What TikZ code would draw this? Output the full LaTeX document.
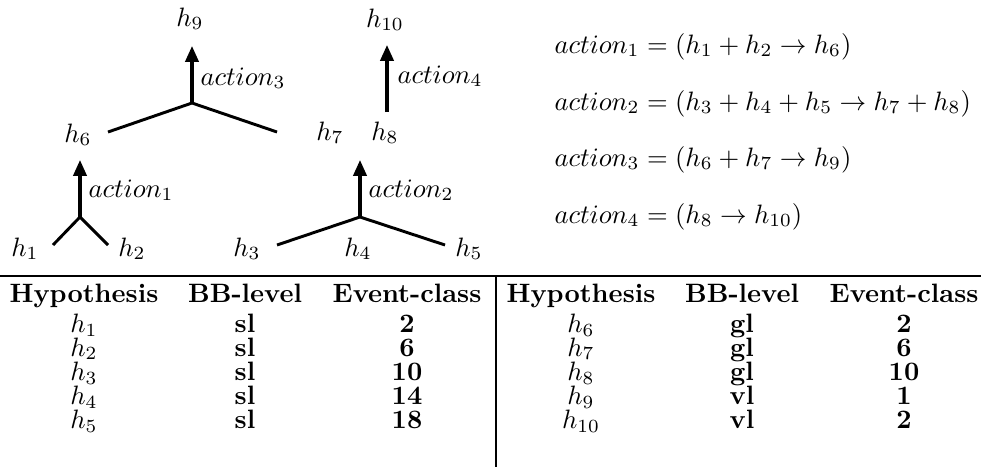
\documentclass[tikz,border=0pt]{standalone}
\usetikzlibrary{arrows.meta}
\begin{document}
\begin{tikzpicture}[x=0.376pt,y=-0.376pt,
  lbl/.style={inner sep=0pt,anchor=base},
  actlbl/.style={inner sep=0pt,anchor=base west},
  branch/.style={line width=1.1pt},
  upar/.style={line width=1.2pt,-{Triangle[length=6pt,width=5pt]}},
  eqn/.style={inner sep=0pt,anchor=base west},
  hd/.style={inner sep=0pt,anchor=base,font=\bfseries},
  cell/.style={inner sep=0pt,anchor=base,font=\bfseries},
  hrule/.style={line width=0.7pt},
  vrule/.style={line width=0.45pt}]
\useasboundingbox (0,0) rectangle (981,467);

% hypothesis labels of the tree
\node[lbl] (h9) at (190,26) {$h_9$};
\node[lbl] (h10) at (385,27) {$h_{10}$};
\node[lbl] (h6) at (78,142) {$h_6$};
\node[lbl] (h7) at (330,140) {$h_7$};
\node[lbl] (h8) at (385,140) {$h_8$};
\node[lbl] (h1) at (25,256) {$h_1$};
\node[lbl] (h2) at (132,256) {$h_2$};
\node[lbl] (h3) at (247,256) {$h_3$};
\node[lbl] (h4) at (358,256) {$h_4$};
\node[lbl] (h5) at (469,256) {$h_5$};

% junction points
\coordinate (a3) at (192,103); \coordinate (a3t) at (192,46);
\coordinate (a3l) at (108,132); \coordinate (a3r) at (277,132);
\coordinate (a4) at (387,112); \coordinate (a4t) at (387,45);
\coordinate (a1) at (80,217); \coordinate (a1t) at (80,160);
\coordinate (a1l) at (53,245); \coordinate (a1r) at (108,245);
\coordinate (a2) at (360,217); \coordinate (a2t) at (360,160);
\coordinate (a2l) at (277,245); \coordinate (a2r) at (445,245);

\draw[branch] (a3l) -- (a3) -- (a3r);
\draw[upar] (a3) -- (a3t);
\draw[upar] (a4) -- (a4t);
\draw[branch] (a1l) -- (a1) -- (a1r);
\draw[upar] (a1) -- (a1t);
\draw[branch] (a2l) -- (a2) -- (a2r);
\draw[upar] (a2) -- (a2t);

% action labels
\node[actlbl] (l3) at (200,85) {$action_3$};
\node[actlbl] (l4) at (397,83) {$action_4$};
\node[actlbl] (l1) at (88,197) {$action_1$};
\node[actlbl] (l2) at (368,197) {$action_2$};

% equations
\node[eqn] (e1) at (554,53) {$action_1 = (h_1 + h_2 \rightarrow h_6)$};
\node[eqn] (e2) at (554,110) {$action_2 = (h_3 + h_4 + h_5 \rightarrow h_7 + h_8)$};
\node[eqn] (e3) at (554,166) {$action_3 = (h_6 + h_7 \rightarrow h_9)$};
\node[eqn] (e4) at (554,223) {$action_4 = (h_8 \rightarrow h_{10})$};

% table rules
\coordinate (tl) at (0,276); \coordinate (tr) at (981,276);
\coordinate (vt) at (496,276); \coordinate (vb) at (496,467);
\draw[hrule] (tl) -- (tr);
\draw[vrule] (vt) -- (vb);

% headers
\node[hd] (H1) at (84,302) {Hypothesis};
\node[hd] (B1) at (245,302) {BB-level};
\node[hd] (E1) at (407,302) {Event-class};
\node[hd] (H2) at (581,302) {Hypothesis};
\node[hd] (B2) at (742,302) {BB-level};
\node[hd] (E2) at (904,302) {Event-class};

% left table rows
\foreach \i/\y/\h/\b/\e in {1/332/1/sl/2, 2/356/2/sl/6, 3/380/3/sl/10, 4/404/4/sl/14, 5/428/5/sl/18}{
  \node[lbl] (lh\i) at (84,\y) {$h_{\h}$};
  \node[cell] (lb\i) at (245,\y) {\b};
  \node[cell] (le\i) at (407,\y) {\e};
}
% right table rows
\foreach \i/\y/\h/\b/\e in {1/332/6/gl/2, 2/356/7/gl/6, 3/380/8/gl/10, 4/404/9/vl/1, 5/428/10/vl/2}{
  \node[lbl] (rh\i) at (581,\y) {$h_{\h}$};
  \node[cell] (rb\i) at (742,\y) {\b};
  \node[cell] (re\i) at (904,\y) {\e};
}
\end{tikzpicture}
\end{document}
